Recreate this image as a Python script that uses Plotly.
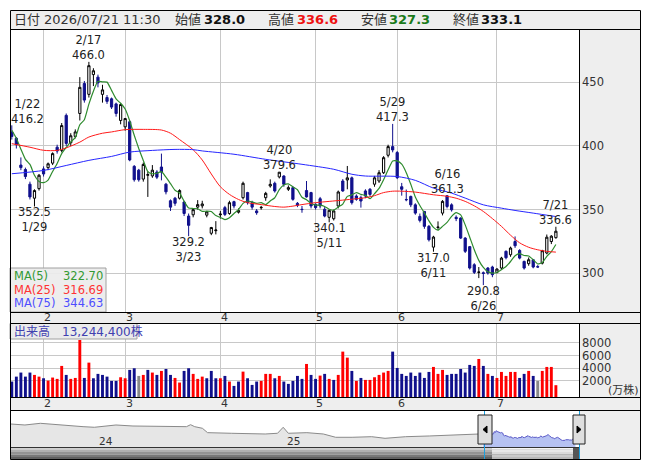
import pandas as pd
import plotly.graph_objects as go

# ---------------- data ----------------
HOLIDAYS = ["2026-02-11", "2026-02-23", "2026-03-20", "2026-04-29",
            "2026-05-04", "2026-05-05", "2026-05-06", "2026-07-20"]
dates = list(pd.bdate_range("2026-01-22", "2026-07-21", freq="C", holidays=HOLIDAYS))

opens = [411, 406, 385, 381.5, 370, 359, 366.5,
         382, 383, 386.5, 399, 396.5, 424, 402.5, 407.5, 425.5, 449, 440.5, 456, 454, 440.5, 438, 437, 433, 420,
         415, 419, 384, 381, 374, 377, 376.5, 379.5, 383.5, 370, 357, 359, 359, 356, 345, 346, 352, 353, 345.7, 331.5, 333.5,
         346, 351.6, 347, 356.3, 348, 359.4, 363.4, 355.5, 349, 351.5, 359.4, 368.6, 370.7, 375.7, 376.4, 366, 367.3, 355, 350.3, 365, 363.4,
         354.2, 358.6, 350.3, 344, 342.9, 352.9, 372.5, 373.3, 375, 360.7, 359.4, 364.7, 366, 370, 372.5, 379, 392.7, 399.5,
         394.8, 368, 358, 360.4, 353.8, 344.7, 348.6, 336.9, 320.6, 336, 347.3, 360.9, 353.8, 344, 343.4, 327.7, 321, 306.8, 300.8, 300.5, 304.2, 305,
         300.8, 304.2, 317.3, 314.6, 325, 318, 309.4, 307.6, 310.7, 305.3, 308, 316, 325, 328.0]
highs = [416.2, 407, 391, 383, 372, 366, 378,
         384, 387, 395, 401, 418, 425.5, 410, 413, 454, 451, 466.0, 461, 456, 448, 440, 438, 434, 433.5,
         422, 420, 385, 382, 387, 380, 385, 381, 394, 371, 358, 360, 366, 357, 347, 351, 357.5, 357, 349, 336.5, 341,
         349, 353, 357, 357, 351, 372, 364, 357, 350.5, 353, 364, 373.8, 372, 379.6, 377, 369, 368.5, 356, 352.9, 372.5, 364,
         355, 360, 352, 350, 350, 365, 374, 384.3, 376, 362, 361, 366, 367, 376.5, 381, 392, 401, 417.3,
         396, 371, 365.8, 361, 355, 347, 349, 338, 329.5, 340.8, 357.5, 361.3, 355, 345.5, 344, 328.5, 321.5, 308, 305, 301.5, 305, 306,
         304, 313, 318, 321, 329, 319, 310, 312.5, 311, 306.5, 318.5, 330.5, 330, 336.6]
lows = [405, 398, 381, 374, 358, 352.5, 365,
        376, 381, 385, 394, 395, 400, 400, 406, 420, 434, 438, 447, 446, 434, 433, 429, 423, 417,
        412, 388, 372, 372, 372, 360, 375, 374, 373, 362, 349, 353, 358, 345, 329.2, 344, 350, 351, 344, 330, 330.6,
        343, 345, 346, 351, 347, 358, 354, 350, 346, 350, 357, 367.3, 363.4, 374.5, 368, 364.7, 357, 352, 347.6, 359.5, 351,
        350, 351, 344, 340.1, 341.5, 351, 364, 366, 354, 357, 351.6, 359, 360.5, 368, 371, 378, 391, 395,
        374, 361, 356.6, 352, 346, 340, 335, 325, 317.0, 334, 345.5, 351, 348.5, 341, 327, 316, 303, 299.5, 296.3, 290.8, 299, 297,
        300, 303, 311, 313, 320, 311, 303, 306, 304, 304.5, 307, 315, 323, 327.3]
closes = [407.5, 401, 383, 376, 360, 365, 377,
          378, 386, 394, 396, 416, 402, 408, 411, 446, 436, 463, 459, 449.5, 444, 435, 430.5, 425.5, 432.5,
          421.5, 389, 373.5, 373.5, 385.5, 377.5, 381, 375.5, 379.5, 364, 352, 355, 365, 347, 337.7, 350, 354, 354.5, 348.3, 336, 334,
          346.5, 346.3, 355.5, 352.9, 349.3, 370.7, 355.5, 352, 347.6, 351.8, 362.8, 369.9, 364.7, 379.4, 369.9, 367.3, 358.1, 353.4, 350.1, 360, 352.9,
          351.6, 352.9, 345, 349.5, 349, 363.9, 364.7, 375, 355.5, 358.1, 356.8, 360.7, 362, 375, 379, 390.8, 399.5, 396.9,
          375.1, 366, 357.8, 353.8, 347.3, 341.6, 336.9, 326.4, 328.5, 336.3, 356.5, 352.5, 349.9, 343, 327.7, 317.3, 304.2, 300.8, 301, 300, 300.3, 299,
          303.4, 312, 312.3, 319.9, 321.7, 312, 304.2, 310.7, 305, 305.0, 317.8, 328.4, 329.2, 333.1]
# volume in 万株
volume = [1900, 2680, 3320, 2680, 3320, 2950, 2680, 2420, 2050, 2530, 2320, 4370, 2950, 2320, 2470, 8470, 2470, 4890,
          2420, 3110, 2950, 2680, 2000, 2000, 2580, 2420, 3740, 4000, 2790, 2950, 3740, 3320, 2950, 3580, 3890, 2950,
          2470, 1740, 3580, 4000, 3110, 2320, 2680, 2420, 3580, 2420, 2420, 2790, 1900, 1210, 1900, 3470, 2420, 1370,
          1900, 2000, 3110, 3110, 2420, 2790, 1900, 1530, 2000, 2790, 2320, 4680, 2950, 2320, 2840, 3110,
          2320, 2160, 2950, 6630, 5680, 3580, 2000, 2470, 2160, 2160, 2580, 2950, 3320, 3580, 6630, 4050, 3110, 2790,
          3320, 2790, 3320, 2470, 3420, 4210, 3110, 3740, 2950, 3110, 3110, 3890, 3320, 4530, 4370, 5470, 4370, 3110,
          2790, 2470, 3420, 2790, 3420, 3420, 2470, 3110, 3580, 2790, 2000, 3580, 4210, 4210, 1324.44]
# change vs previous close: R up, B down, G unchanged
vol_dir = ("BBBBBRRBRR" "RRBRRRBRBB" "BBBBRRBBGR" "BRBRBBRRBB" "RRRBBBRBRB" "BRBBBRRRBR"
           "BBBBBRBBRB" "RBRRRBRBRR" "RRRRBBBBBB" "BBBRRRBBBB" "BBBRBRBRRR" "RRBBRBGRRR" "R")
ma5_head = [412.3, 406.0, 397.5, 389.5]
ma25_dates = ["01-22", "01-28", "02-02", "02-05", "02-09", "02-13", "02-17", "02-20", "02-25", "03-02", "03-06",
              "03-12", "03-16", "03-18", "03-24", "03-26", "03-30", "04-01", "04-03", "04-07", "04-09", "04-14",
              "04-17", "04-21", "04-23", "04-27", "05-01", "05-11", "05-14", "05-19", "05-21", "05-25", "05-27",
              "05-29", "06-02", "06-05", "06-11", "06-16", "06-18", "06-22", "06-24", "06-26", "06-30", "07-02",
              "07-06", "07-08", "07-10", "07-14", "07-16", "07-21"]
ma25_vals = [401.8, 399, 396.6, 396.5, 398.5, 403, 407, 410, 411, 412.8, 413,
             412.5, 410, 405, 397, 389, 378, 368, 362, 358, 355.5, 354,
             352.5, 352, 352.8, 354, 355.5, 356.5, 357.5, 358.6, 359.4, 361, 363.4,
             364.5, 364.5, 363.8, 361.7, 360.5, 359, 356.5, 353, 348.6, 343, 336.9,
             330, 324, 320.5, 318.5, 317.3, 316.69]
ma75_dates = ["01-22", "02-02", "02-09", "02-17", "02-25", "03-03", "03-10", "03-17", "03-24", "03-26", "04-06",
              "04-15", "04-27", "05-12", "05-18", "05-21", "06-01", "06-05", "06-11", "06-17", "06-22", "06-26",
              "07-02", "07-07", "07-13", "07-21"]
ma75_vals = [378.2, 380.8, 384.7, 388.7, 391.8, 395.2, 396.5, 397.3, 397.1, 396.1, 393.5,
             389.5, 385.6, 381.7, 377.8, 376.4, 376, 373, 366.9, 363, 359.1, 353.8,
             351.2, 349.4, 347.3, 344.63]
nav_dates = ["2023-07-19", "2023-08-16", "2023-09-15", "2023-10-19", "2023-12-07", "2023-12-29", "2024-01-25",
             "2024-02-09", "2024-03-13", "2024-05-16", "2024-06-25", "2024-07-03", "2024-07-11", "2024-07-26",
             "2024-08-05", "2024-09-20", "2024-11-25", "2024-12-19", "2024-12-30", "2025-01-09", "2025-02-14",
             "2025-03-18", "2025-04-11", "2025-05-13", "2025-06-20", "2025-07-16", "2025-08-25", "2025-10-10",
             "2025-11-28", "2025-12-30", "2026-01-21"]
nav_vals = [575, 558, 586, 558, 530, 520, 541, 558, 541, 530, 530, 563, 530, 503, 430, 420, 408, 420, 520, 420,
            430, 408, 353, 353, 363, 336, 363, 375, 391, 403, 410]
marks = [("2026-01-22", "high"), ("2026-01-29", "low"), ("2026-02-17", "high"), ("2026-03-23", "low"),
         ("2026-04-20", "high"), ("2026-05-11", "low"), ("2026-05-29", "high"), ("2026-06-11", "low"),
         ("2026-06-16", "high"), ("2026-06-26", "low"), ("2026-07-21", "high")]

# ---------------- layout helpers ----------------
W, H = 653, 470
FONT = "DejaVu Sans, Noto Sans CJK JP, sans-serif"
NAVY = "#10108c"
TXT = "#333333"
GRID = "#c8c8c8"
PANEL = "#eeeeee"
XMIN, XMAX = -0.4, 125.1
VOL_FLOOR = -541

n = len(dates)
idx = list(range(n))
pos = {d.strftime("%Y-%m-%d"): i for i, d in enumerate(dates)}
month_idx = [i for i in range(1, n) if dates[i].month != dates[i - 1].month]


def X(p):
    return p / W


def Y(p):
    return 1 - p / H


shapes = []
annotations = []


def rect(x0, y0, x1, y1, fill="rgba(0,0,0,0)", line=None, lw=1, layer="above"):
    shapes.append(dict(type="rect", xref="paper", yref="paper", x0=X(x0), x1=X(x1), y0=Y(y1), y1=Y(y0),
                       fillcolor=fill, layer=layer,
                       line=dict(color=line if line else "rgba(0,0,0,0)", width=lw if line else 0)))


def hline(y, x0, x1, color="#000000", lw=1):
    shapes.append(dict(type="line", xref="paper", yref="paper", x0=X(x0), x1=X(x1), y0=Y(y), y1=Y(y),
                       line=dict(color=color, width=lw), layer="above"))


def vline(x, y0, y1, color="#000000", lw=1):
    shapes.append(dict(type="line", xref="paper", yref="paper", x0=X(x), x1=X(x), y0=Y(y0), y1=Y(y1),
                       line=dict(color=color, width=lw), layer="above"))


def text(x, y, s, size=11.5, color=TXT, anchor="left", xref="paper", yref="paper", xshift=0, yshift=0, raw=False):
    annotations.append(dict(x=x if raw else X(x), y=y if raw else Y(y), xref=xref, yref=yref, text=s,
                            showarrow=False, xanchor=anchor, yanchor="middle", xshift=xshift, yshift=yshift,
                            font=dict(family=FONT, size=size, color=color)))


# ---------------- traces ----------------
fig = go.Figure()
fig.add_trace(go.Candlestick(
    x=idx, open=opens, high=highs, low=lows, close=closes, whiskerwidth=0,
    increasing=dict(line=dict(color="#000000", width=1), fillcolor="#ffffff"),
    decreasing=dict(line=dict(color=NAVY, width=1), fillcolor=NAVY),
    hoverinfo="skip", xaxis="x", yaxis="y"))

ma5 = ma5_head + [sum(closes[i - 4:i + 1]) / 5 for i in range(4, n)]
fig.add_trace(go.Scatter(x=idx, y=ma5, mode="lines", line=dict(color="#2e8b2e", width=1.2, shape="spline", smoothing=0.5),
                         hoverinfo="skip", xaxis="x", yaxis="y"))
fig.add_trace(go.Scatter(x=[pos["2026-" + d] for d in ma25_dates], y=ma25_vals, mode="lines",
                         line=dict(color="#ff1a1a", width=1, shape="spline", smoothing=0.8),
                         hoverinfo="skip", xaxis="x", yaxis="y"))
fig.add_trace(go.Scatter(x=[pos["2026-" + d] for d in ma75_dates], y=ma75_vals, mode="lines",
                         line=dict(color="#2626ff", width=1, shape="spline", smoothing=0.8),
                         hoverinfo="skip", xaxis="x", yaxis="y"))

cmap = {"R": "#ff0000", "B": NAVY, "G": "#888888"}
fig.add_trace(go.Bar(x=idx, y=[v - VOL_FLOOR for v in volume], base=VOL_FLOOR, width=0.64,
                     marker=dict(color=[cmap[c] for c in vol_dir], line=dict(width=0)),
                     hoverinfo="skip", xaxis="x2", yaxis="y2"))

fig.add_trace(go.Scatter(x=nav_dates, y=nav_vals, mode="lines", fill="tozeroy", fillcolor="#e6e6e6",
                         line=dict(color="#8a8a8a", width=1), hoverinfo="skip", xaxis="x3", yaxis="y3"))
fig.add_trace(go.Scatter(x=dates, y=closes, mode="lines", fill="tozeroy", fillcolor="#b6c2f2",
                         line=dict(color="#5a5ac8", width=1), hoverinfo="skip", xaxis="x3", yaxis="y3"))

# ---------------- frame / panels ----------------
rect(10, 10, 640, 29.5, fill=PANEL, layer="below")
rect(579, 29.5, 640, 312, fill=PANEL, layer="below")
rect(10, 312, 640, 323, fill=PANEL, layer="below")
rect(579, 323, 640, 397, fill=PANEL, layer="below")
rect(10, 397, 640, 410, fill=PANEL, layer="below")
rect(579, 410, 640, 459, fill=PANEL, layer="below")

# scrollbar
bands = [(447, 449.5), (449.5, 452), (452, 454.5), (454.5, 457), (457, 459)]
dark = ["#cfcfcf", "#b0b0b0", "#939393", "#787878", "#606060"]
light = ["#f6f6f6", "#e8e8e8", "#dadada", "#cacaca", "#b8b8b8"]
for (a, b), c1, c2 in zip(bands, dark, light):
    rect(10, a, 579, b, fill=c1)
    rect(492, a, 573, b, fill=c2)
rect(573, 447, 579, 459, fill="#555555")
hline(447.5, 10, 579, color="#333333")

# navigator selection markers and handles
vline(484.5, 410, 459, color="#1aa0e0")
vline(579.5, 410, 459, color="#1aa0e0")
for hx0, hx1, tri in [(478, 492, "L"), (573, 585, "R")]:
    rect(hx0, 415, hx1, 444, fill="#dedede", line="#222222")
    cx = (hx0 + hx1) / 2
    if tri == "L":
        pts = [(cx + 2, 426), (cx - 2, 429.5), (cx + 2, 433)]
    else:
        pts = [(cx - 2, 426), (cx + 2, 429.5), (cx - 2, 433)]
    path = "M {} {} L {} {} L {} {} Z".format(*[v for p in pts for v in (X(p[0]), Y(p[1]))])
    shapes.append(dict(type="path", xref="paper", yref="paper", path=path, fillcolor="#000000",
                       line=dict(color="#000000", width=1), layer="above"))

# legend boxes
rect(10, 268, 106, 312, fill="rgba(236,236,236,0.92)", line="#a0a0a0")
rect(10, 323.5, 137, 339, fill="#ebebeb", line="#a0a0a0")

# borders
rect(10.5, 10.5, 640.5, 459.5, line="#000000")
for yy in (29.5, 312.5, 323.5, 397.5, 410.5):
    hline(yy, 10, 640.5)
vline(579.5, 29.5, 312.5)
vline(579.5, 323.5, 397.5)

# ---------------- texts ----------------
last = n - 1
hy = 19.5
text(12, hy, "日付", 13)
text(41.5, hy, dates[last].strftime("%Y/%m/%d") + " 11:30", 13)
text(173, hy, "始値", 13)
text(202, hy, "<b>%.1f</b>" % opens[last], 13, "#111111")
text(265.5, hy, "高値", 13)
text(295, hy, "<b>%.1f</b>" % highs[last], 13, "#ee1111")
text(358.5, hy, "安値", 13)
text(387, hy, "<b>%.1f</b>" % lows[last], 13, "#1a7a1a")
text(451, hy, "終値", 13)
text(479, hy, "<b>%.1f</b>" % closes[last], 13, "#111111")

# MA legend
ma_rows = [("MA(5)", ma5[-1], "#339933", 276), ("MA(25)", ma25_vals[-1], "#ff3333", 289.5),
           ("MA(75)", ma75_vals[-1], "#4d4dff", 303)]
for lab, val, col, yy in ma_rows:
    text(11.5, yy, lab, 11.5, col)
    text(105, yy, "%.2f" % val, 11.5, col, anchor="right")

# volume label
text(12, 331.5, "出来高　{:,}株".format(int(round(volume[last] * 10000))), 12, "#4040b0")
text(623.5, 390, "(万株)", 11, TXT, anchor="center")

# month labels in date strips
for m in month_idx:
    text(m, Y(317.5), str(dates[m].month), 11, TXT, anchor="center", xref="x", xshift=4, raw=True)
    text(m, Y(403.5), str(dates[m].month), 11, TXT, anchor="center", xref="x2", xshift=4, raw=True)

# navigator year labels
for yr in ("2024", "2025"):
    text(yr + "-01-01", Y(440.5), yr[2:], 10.5, TXT, anchor="left", xref="x3", xshift=1, raw=True)

# high / low marks (two lines: date and price)
for d, kind in marks:
    i = pos[d]
    val = highs[i] if kind == "high" else lows[i]
    dtxt = "%d/%d" % (dates[i].month, dates[i].day)
    vtxt = "%.1f" % val
    if i - 3.8 < XMIN:
        xx, anc = XMIN, "left"
    else:
        xx, anc = i, "center"
    if kind == "high":
        s, t = 14, dtxt + "<br>" + vtxt
    else:
        s, t = -13.5, vtxt + "<br>" + dtxt
    annotations.append(dict(x=xx, y=val, xref="x", yref="y", text=t, showarrow=False, xanchor=anc,
                            yanchor="middle", yshift=s, borderpad=0,
                            font=dict(family=FONT, size=11.5, color="#222222")))

# ---------------- axes ----------------
fig.update_layout(
    width=W, height=H, margin=dict(l=0, r=0, t=0, b=0),
    paper_bgcolor="#ffffff", plot_bgcolor="#ffffff",
    showlegend=False, hovermode=False, dragmode=False,
    shapes=shapes, annotations=annotations,
    font=dict(family=FONT, size=11.5, color=TXT),
    xaxis=dict(domain=[X(10), X(579)], range=[XMIN, XMAX], tickvals=month_idx, showticklabels=False,
               showgrid=True, gridcolor=GRID, gridwidth=1, zeroline=False, showline=False,
               rangeslider=dict(visible=False), fixedrange=True, anchor="y"),
    yaxis=dict(domain=[Y(312), Y(30)], range=[269.7, 491], side="right", tickvals=[300, 350, 400, 450],
               ticktext=["300", "350", "400", "450"], ticks="", tickfont=dict(size=11.5, color=TXT),
               showgrid=True, gridcolor=GRID, gridwidth=1, zeroline=False, showline=False, fixedrange=True,
               anchor="x", ticklabelstandoff=2),
    xaxis2=dict(domain=[X(10), X(579)], range=[XMIN, XMAX], tickvals=month_idx, showticklabels=False,
                showgrid=True, gridcolor=GRID, gridwidth=1, zeroline=False, showline=False, fixedrange=True,
                anchor="y2"),
    yaxis2=dict(domain=[Y(397), Y(323)], range=[VOL_FLOOR, 11152], side="right",
                tickvals=[2000, 4000, 6000, 8000], ticktext=["2000", "4000", "6000", "8000"], ticks="",
                tickfont=dict(size=11.5, color=TXT), showgrid=True, gridcolor=GRID, gridwidth=1,
                zeroline=False, showline=False, fixedrange=True, anchor="x2", ticklabelstandoff=2),
    xaxis3=dict(domain=[X(10), X(579)], type="date", range=["2023-07-18", "2026-07-28"], visible=False,
                showgrid=False, fixedrange=True, anchor="y3"),
    yaxis3=dict(domain=[Y(447), Y(410)], range=[191, 808], visible=False, showgrid=False, fixedrange=True,
                anchor="x3"),
)

fig.write_html("out.html", config={"displayModeBar": False, "staticPlot": True},
               post_script="document.body.style.margin='0px';document.body.style.overflow='hidden';")
